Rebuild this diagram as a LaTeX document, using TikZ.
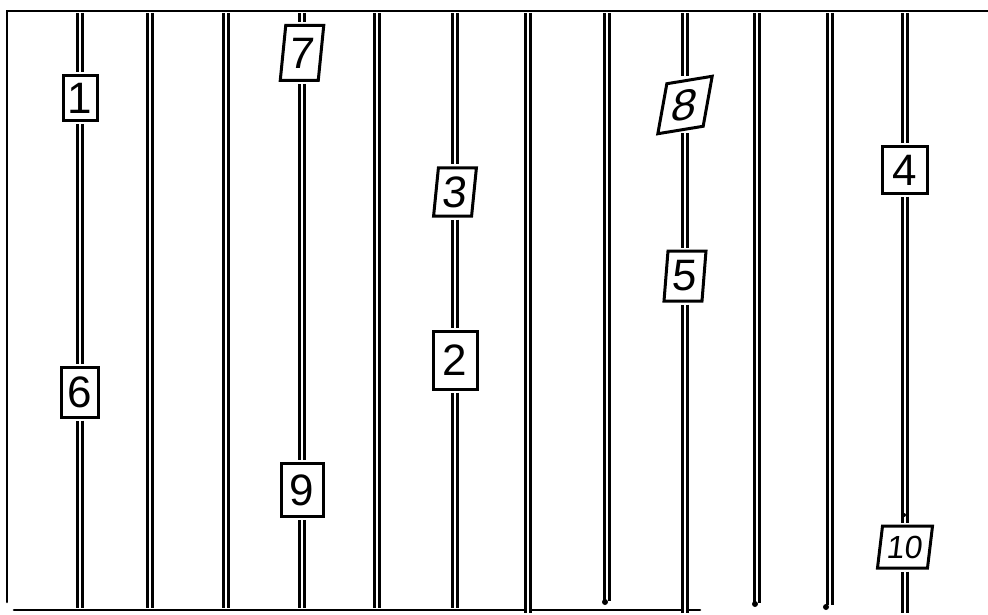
\documentclass[tikz,border=0pt]{standalone}
\usepackage{fontspec}
\setmainfont{Liberation Sans}
\begin{document}
\begin{tikzpicture}[x=1pt,y=-1pt,
  frame/.style={line width=2.6pt, line cap=round},
  rail/.style={double, double distance=2.8pt, line width=2.3pt, shorten <=2pt, shorten >=2pt},
  box/.style={draw, fill=white, line width=3pt, inner sep=0pt, transform shape,
    font=\fontsize{44}{48}\selectfont, minimum width=40pt, minimum height=50pt},
  enddot/.style={circle, fill=black, inner sep=0pt, minimum size=6pt}]
\useasboundingbox (0,0) rectangle (988,615);
% frame
\coordinate (tl) at (7,11);
\coordinate (tr) at (988,11);
\coordinate (bl) at (7,602);
\coordinate (bs) at (14,610);
\coordinate (be) at (700,610);
\draw[frame] (tr) -- (tl) -- (bl);
\draw[frame] (bs) -- (be);
% boxes
\node[box, minimum width=34pt, minimum height=45pt] (n1) at (80,98) {1};
\node[box, xslant=0.1, minimum width=38pt, minimum height=55pt] (n7) at (302,53) {7};
\node[box, xslant=0.1, minimum width=38pt, minimum height=48pt] (n3) at (455,192) {3};
\node[box, xslant=0.18, yslant=0.17, minimum width=44pt, minimum height=50pt] (n8) at (685,105) {8};
\node[box, minimum width=45pt, minimum height=46pt] (n4) at (905,170) {4};
\node[box, xslant=0.08, minimum width=38pt, minimum height=50pt] (n5) at (685,276) {5};
\node[box, minimum width=37pt, minimum height=50pt] (n6) at (80,392) {6};
\node[box, minimum width=42pt, minimum height=53pt] (n9) at (302,490) {9};
\node[box, minimum width=44pt, minimum height=58pt] (n2) at (455,360) {2};
\node[box, xslant=0.12, minimum width=50pt, minimum height=42pt,
  font=\fontsize{32}{36}\selectfont] (n10) at (905,547) {10};
% rail ends
\foreach \i/\x/\yb in {1/80/610, 2/150/610, 3/226/610, 4/302/610, 5/377/610, 6/455/610,
                       7/528/615, 8/607/603, 9/685/615, 10/757/605, 11/830/607, 12/905/615} {
  \coordinate (top\i) at (\x,11);
  \coordinate (bot\i) at (\x,\yb);
}
% rails
\draw[rail] (top1) -- (n1 |- n1.north);
\draw[rail] (n1 |- n1.south) -- (n6 |- n6.north);
\draw[rail] (n6 |- n6.south) -- (bot1);
\draw[rail] (top2) -- (bot2);
\draw[rail] (top3) -- (bot3);
\draw[rail] (top4) -- (n7 |- n7.north);
\draw[rail] (n7 |- n7.south) -- (n9 |- n9.north);
\draw[rail] (n9 |- n9.south) -- (bot4);
\draw[rail] (top5) -- (bot5);
\draw[rail] (top6) -- (n3 |- n3.north);
\draw[rail] (n3 |- n3.south) -- (n2 |- n2.north);
\draw[rail] (n2 |- n2.south) -- (bot6);
\draw[rail] (top7) -- (bot7);
\draw[rail] (top8) -- (bot8);
\draw[rail] (top9) -- (n8 |- n8.north);
\draw[rail] (n8 |- n8.south) -- (n5 |- n5.north);
\draw[rail] (n5 |- n5.south) -- (bot9);
\draw[rail] (top10) -- (bot10);
\draw[rail] (top11) -- (bot11);
\draw[rail] (top12) -- (n4 |- n4.north);
\draw[rail] (n4 |- n4.south) -- (n10 |- n10.north);
\draw[rail] (n10 |- n10.south) -- (bot12);
% end dots
\node[enddot] (d8) at (605,602) {};
\node[enddot] (d10) at (755,604) {};
\node[enddot] (d11) at (826,607) {};
\node[enddot, minimum size=4pt] (d12) at (904,515) {};
\end{tikzpicture}
\end{document}
